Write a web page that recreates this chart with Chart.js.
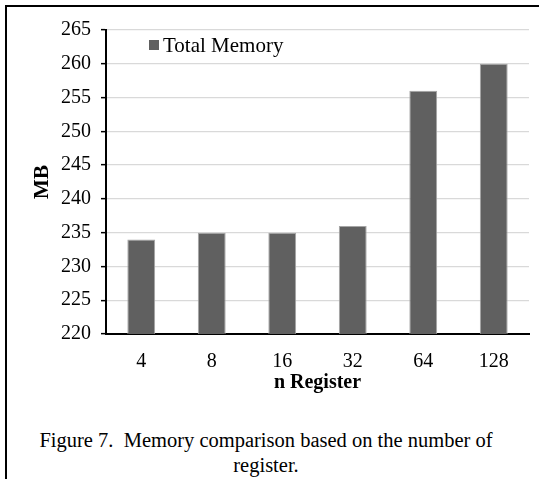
<!DOCTYPE html>
<html>
<head>
<meta charset="utf-8">
<script src="https://cdn.jsdelivr.net/npm/chart.js@4/dist/chart.umd.min.js"></script>
<style>
  body { margin:0; background:#fff; width:545px; height:479px; overflow:hidden; position:relative; }
  #frame { position:absolute; left:5px; top:5px; width:532px; height:480px; border-left:2px solid #000; border-top:2px solid #000; }
  #wrap { position:absolute; left:0; top:0; width:545px; height:400px; }
  #caption { position:absolute; left:0; top:428px; width:532px; text-align:center; font-family:'Liberation Serif','Times New Roman',serif; font-size:20.5px; line-height:25px; color:#000; white-space:pre; }
</style>
</head>
<body>
<div id="frame"></div>
<div id="wrap"><canvas id="memChart"></canvas></div>
<div id="caption">Figure 7.  Memory comparison based on the number of
register.</div>
<script>
const registers = ['4', '8', '16', '32', '64', '128'];
const totalMemory = [234, 235, 235, 236, 256, 260];
const seriesName = 'Total Memory';
const yMin = 220, yMax = 265, yStep = 5;

const serif = "'Liberation Serif', 'Times New Roman', serif";
Chart.defaults.font.family = serif;
Chart.defaults.font.size = 20;
Chart.defaults.color = '#000';

// legend drawn inside the plot area, top-left like the Excel original
const innerLegend = {
  id: 'innerLegend',
  afterDraw(chart) {
    const ctx = chart.ctx, area = chart.chartArea;
    const ds = chart.data.datasets[0];
    const x = area.left + 43, y = area.top + 15;
    ctx.save();
    ctx.fillStyle = ds.backgroundColor;
    ctx.fillRect(x, y - 5, 10, 10);
    ctx.fillStyle = '#000';
    ctx.font = '21px ' + serif;
    ctx.textBaseline = 'middle';
    ctx.fillText(ds.label, x + 14, y + 1);
    ctx.restore();
  }
};

function drawChart() {
  new Chart(document.getElementById('memChart').getContext('2d'), {
    type: 'bar',
    data: {
      labels: registers,
      datasets: [{
        label: seriesName,
        data: totalMemory,
        backgroundColor: '#606060',
        borderColor: '#a5a5a5',
        borderWidth: 1,
        categoryPercentage: 1,
        barPercentage: 0.395
      }]
    },
    options: {
      responsive: true,
      maintainAspectRatio: false,
      animation: false,
      layout: { padding: { left: 0, right: 16, top: 30, bottom: 0 } },
      plugins: { legend: { display: false }, tooltip: { enabled: false } },
      scales: {
        x: {
          grid: { display: false },
          border: { color: '#000', width: 2 },
          ticks: { padding: 8 },
          title: { display: true, text: 'n Register', font: { weight: 'bold', size: 20 }, padding: { top: 0, bottom: 5 } },
          afterFit(scale) { scale.height = 66; }
        },
        y: {
          min: yMin,
          max: yMax,
          ticks: { stepSize: yStep, padding: 10 },
          grid: { color: '#d9d9d9', lineWidth: 1.3, tickColor: '#000', tickLength: 5, tickWidth: 1.5 },
          border: { color: '#000', width: 2 },
          title: { display: true, text: 'MB', font: { weight: 'bold', size: 21 }, padding: { top: 30, bottom: 0 } },
          afterFit(scale) { scale.width = 106; }
        }
      }
    },
    plugins: [innerLegend]
  });
}

Promise.all([
  document.fonts.load('20px ' + serif),
  document.fonts.load('bold 20px ' + serif)
]).then(drawChart, drawChart);
</script>
</body>
</html>
